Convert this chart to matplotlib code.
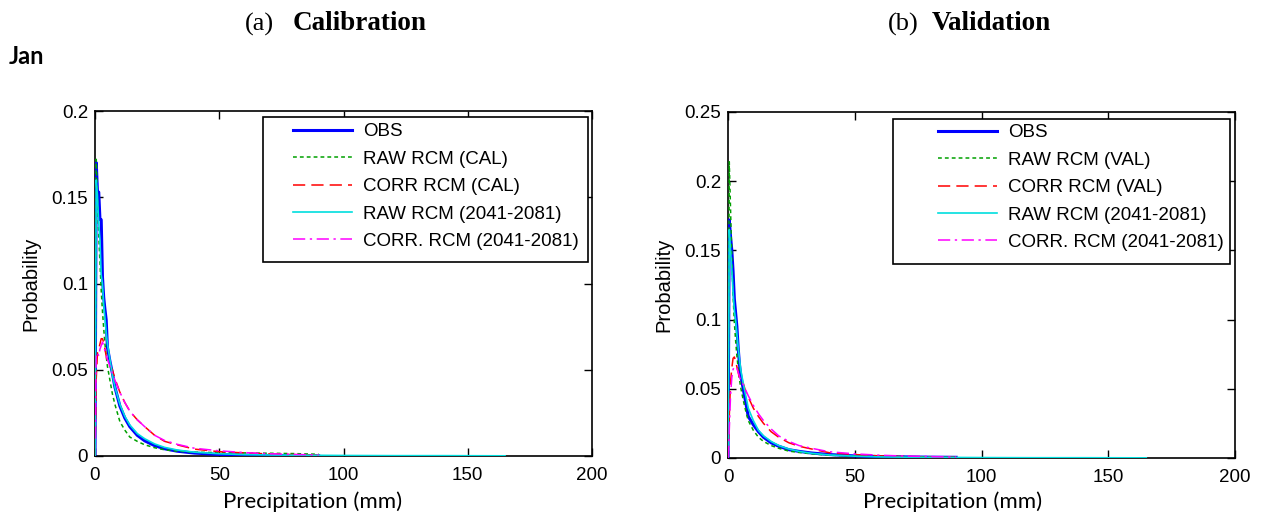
import numpy as np
import matplotlib.pyplot as plt
from matplotlib.patches import Rectangle
from matplotlib.ticker import FormatStrFormatter

# bin positions (mm)
x_bins = [0, 0.5, 1, 1.5, 2, 2.5, 3, 3.5, 4, 4.5, 5, 6, 7, 8, 10, 12, 14, 17,
          20, 24, 28, 33, 40, 50, 60, 70, 80, 90]
x_bins_long = x_bins + [100, 120, 140, 165]

# (a) calibration
obs_cal = [0, .170, .153, .153, .137, .137, .104, .092, .085, .079, .063, .055,
           .048, .040, .029, .022, .017, .012, .0088, .006, .0042, .0028, .0017,
           .0009, .0005, .0003, .0002, .0001]
raw_cal = [0, .172, .150, .128, .112, .096, .084, .074, .065, .058, .052, .044,
           .036, .030, .020, .015, .011, .0085, .0065, .0048, .0036, .0028,
           .0022, .0020, .0018, .0016, .0014, .0010]
corr_cal = [0, .045, .060, .062, .065, .068, .068, .066, .062, .058, .055, .052,
            .050, .045, .037, .031, .026, .021, .017, .012, .0085, .0065, .0040,
            .0025, .0018, .0012, .0008, .0005]
raw_fut_cal = [0, .160, .150, .135, .125, .105, .100, .088, .080, .072, .065,
               .056, .047, .040, .030, .023, .018, .013, .010, .007, .005,
               .0035, .0022, .0013, .0008, .0006, .0005, .0004, .0003, .0002,
               .0002, .0001]
corr_fut_cal = [0.01, .058, .060, .058, .062, .064, .066, .064, .061, .058, .056,
                .052, .048, .044, .037, .031, .026, .021, .017, .012, .009,
                .0068, .0045, .0030, .0020, .0013, .0009, .0006]

# (b) validation
obs_val = [0, .172, .160, .150, .135, .115, .105, .095, .080, .068, .060, .050,
           .040, .030, .024, .019, .015, .011, .0085, .006, .0048, .0036, .0025,
           .0015, .0010, .0008, .0006, .0005]
raw_val = [0, .214, .180, .145, .118, .098, .085, .074, .065, .057, .051, .042,
           .034, .027, .020, .015, .012, .009, .007, .005, .004, .003, .002,
           .0015, .0012, .0010, .0008, .0006]
corr_val = [0, .030, .055, .065, .072, .073, .070, .066, .062, .058, .056, .054,
            .048, .044, .036, .030, .025, .019, .015, .011, .0085, .0065, .0038,
            .0025, .0015, .0010, .0008, .0005]
raw_fut_val = [0, .165, .150, .136, .120, .107, .100, .090, .080, .072, .064,
               .054, .045, .036, .027, .020, .016, .012, .009, .0065, .0048,
               .0034, .0022, .0013, .0008, .0006, .0005, .0004, .0003, .0002,
               .0002, .0001]
corr_fut_val = [0, .020, .045, .058, .064, .066, .066, .065, .062, .059, .056,
                .053, .049, .045, .038, .032, .027, .021, .016, .012, .009,
                .0070, .0045, .0030, .0020, .0014, .0010, .0006]

labels_cal = ["OBS", "RAW RCM (CAL)", "CORR RCM (CAL)", "RAW RCM (2041-2081)",
              "CORR. RCM (2041-2081)"]
labels_val = ["OBS", "RAW RCM (VAL)", "CORR RCM (VAL)", "RAW RCM (2041-2081)",
              "CORR. RCM (2041-2081)"]

W, H = 1263, 515
fig = plt.figure(figsize=(W / 100, H / 100), dpi=100)


def panel(rect, series, labels, ymax, ystep, box, handle_x, ylab_x):
    ax = fig.add_axes(rect)
    styles = [
        dict(color="#0000ff", lw=2.2, ls="-"),
        dict(color="#00a000", lw=1.1, ls=(0, (2.5, 2))),
        dict(color="#ff0000", lw=1.1, ls=(0, (8, 4))),
        dict(color="#00dede", lw=1.2, ls="-"),
        dict(color="#ff00ff", lw=1.1, ls=(0, (8, 3, 1.5, 3))),
    ]
    for (xs, ys), lab, st in zip(series, labels, styles):
        ax.plot(xs, ys, label=lab, zorder=3, **st)
    ax.set_xlim(0, 200)
    ax.set_ylim(0, ymax)
    ax.set_xticks(np.arange(0, 201, 50))
    ax.set_yticks(np.arange(0, ymax + 1e-9, ystep))
    ax.yaxis.set_major_formatter(FormatStrFormatter("%g"))
    ax.tick_params(direction="in", top=True, right=True, length=6, width=1,
                   pad=5, labelsize=13.5)
    ax.tick_params(axis="x", pad=8)
    for lab in ax.get_xticklabels() + ax.get_yticklabels():
        lab.set_family("Liberation Sans")
    for sp in ax.spines.values():
        sp.set_linewidth(1.2)
    ax.set_ylabel("Probability", fontfamily="Liberation Sans", fontsize=14.5)
    ax.yaxis.set_label_coords(ylab_x, 0.5)

    # legend frame drawn separately (MATLAB-style wide box)
    x0, y0, x1, y1 = box
    ax.add_patch(Rectangle((x0, y0), x1 - x0, y1 - y0, transform=ax.transAxes,
                           facecolor="white", edgecolor="black", lw=1.2,
                           zorder=4, clip_on=False))
    ax.legend(loc="upper left", bbox_to_anchor=(handle_x, 0.965),
              prop=dict(family="Liberation Sans", size=13.5),
              frameon=False, handlelength=3.15, labelspacing=0.55,
              borderpad=0, handletextpad=0.6, borderaxespad=0)
    return ax


ax1 = panel([95 / W, 1 - 456 / H, 497 / W, 345 / H],
            [(x_bins, obs_cal), (x_bins, raw_cal), (x_bins, corr_cal),
             (x_bins_long, raw_fut_cal), (x_bins, corr_fut_cal)],
            labels_cal, 0.2, 0.05,
            (0.338, 0.562, 0.992, 0.983), 0.398, -0.11)
ax2 = panel([728 / W, 1 - 458 / H, 507 / W, 346 / H],
            [(x_bins, obs_val), (x_bins, raw_val), (x_bins, corr_val),
             (x_bins_long, raw_fut_val), (x_bins, corr_fut_val)],
            labels_val, 0.25, 0.05,
            (0.325, 0.561, 0.990, 0.980), 0.414, -0.108)

# panel headings and labels (document text)
fig.text(245 / W, 1 - 24 / H, "(a)", family="Liberation Serif", fontsize=19,
         va="center")
fig.text(293 / W, 1 - 24 / H, "Calibration", family="Liberation Serif",
         fontsize=19.5, fontweight="bold", va="center")
fig.text(888 / W, 1 - 24 / H, "(b)", family="Liberation Serif", fontsize=19,
         va="center")
fig.text(932 / W, 1 - 24 / H, "Validation", family="Liberation Serif",
         fontsize=19.5, fontweight="bold", va="center")
fig.text(9 / W, 1 - 57 / H, "Jan", family="Lato", fontsize=17,
         fontweight="bold", va="center")
fig.text(313 / W, 1 - 502 / H, "Precipitation (mm)", family="Lato",
         fontsize=16, ha="center", va="center")
fig.text(953 / W, 1 - 502 / H, "Precipitation (mm)", family="Lato",
         fontsize=16, ha="center", va="center")

fig.savefig("out.png", dpi=100)
